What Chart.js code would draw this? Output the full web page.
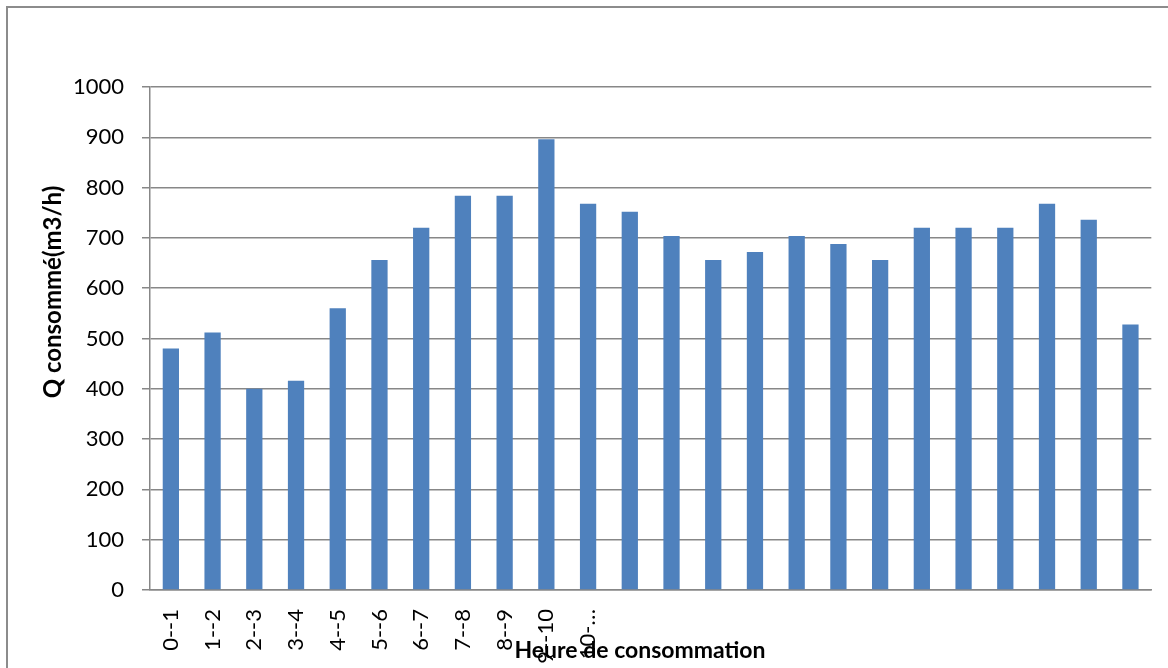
<!DOCTYPE html>
<html>
<head>
<meta charset="utf-8">
<title>Heure de consommation</title>
<script src="https://cdn.jsdelivr.net/npm/chart.js@4.4.1/dist/chart.umd.min.js"></script>
<style>
  html, body { margin: 0; padding: 0; background: #ffffff; overflow: hidden; }
  #wrap { position: relative; width: 1168px; height: 668px; }
  #wrap canvas { position: absolute; left: 0; top: 0; }
  #frame {
    position: absolute; left: 6px; top: 6px; right: -10px; bottom: -10px;
    border-left: 2px solid #8c8c8c; border-top: 2px solid #8c8c8c;
    pointer-events: none;
  }
</style>
</head>
<body>
<div id="wrap">
  <canvas id="chart" width="1168" height="668"></canvas>
  <div id="frame"></div>
</div>
<script>
// Hourly consumption intervals
const categories = [
  '0--1', '1--2', '2--3', '3--4', '4--5', '5--6', '6--7', '7--8',
  '8--9', '9--10', '10--11', '11--12', '12--13', '13--14', '14--15', '15--16',
  '16--17', '17--18', '18--19', '19--20', '20--21', '21--22', '22--23', '23--24'
];

// Labels printed under the axis (only the first hours fit)
const tickLabels = [
  '0--1', '1--2', '2--3', '3--4', '4--5', '5--6', '6--7', '7--8',
  '8--9', '9--10', '10-…', '', '', '', '', '',
  '', '', '', '', '', '', '', ''
];

// Flow consumed per hour (m3/h)
const consumption = [
  480, 512, 400, 416, 560, 656, 720, 784,
  784, 896, 768, 752, 704, 656, 672, 704,
  688, 656, 720, 720, 720, 768, 736, 528
];

// Value axis range
const yMin = 0;
const yMax = 1000;
const yStep = 100;

const xTitle = 'Heure de consommation';
const yTitle = 'Q consommé(m3/h)';

const FONT = 'Lato, "Open Sans", sans-serif';
const GRID = '#878787';

// Axis titles placed freely around the plot
const axisTitlePlugin = {
  id: 'axisTitles',
  afterDraw(chart, args, opts) {
    const ctx = chart.ctx;
    ctx.save();
    ctx.fillStyle = '#000000';
    ctx.textAlign = 'center';
    ctx.textBaseline = 'middle';
    ctx.font = 'bold ' + opts.xSize + 'px ' + FONT;
    ctx.fillText(xTitle, opts.xAt[0], opts.xAt[1]);
    ctx.font = 'bold ' + opts.ySize + 'px ' + FONT;
    ctx.translate(opts.yAt[0], opts.yAt[1]);
    ctx.rotate(-Math.PI / 2);
    ctx.fillText(yTitle, 0, 0);
    ctx.restore();
  }
};

function build() {
  const ctx = document.getElementById('chart').getContext('2d');
  new Chart(ctx, {
    type: 'bar',
    data: {
      labels: categories,
      datasets: [{
        label: yTitle,
        data: consumption,
        backgroundColor: '#4f81bd',
        borderWidth: 0,
        categoryPercentage: 1.0,
        barPercentage: 0.39
      }]
    },
    options: {
      responsive: false,
      devicePixelRatio: 1,
      animation: false,
      layout: { padding: { top: 87, right: 7, bottom: 0, left: 0 } },
      plugins: {
        legend: { display: false },
        tooltip: { enabled: false },
        axisTitles: { xSize: 23, ySize: 24, xAt: [640, 651], yAt: [53, 292] }
      },
      scales: {
        x: {
          grid: { display: false },
          border: { display: true, color: GRID, width: 1.5 },
          ticks: {
            autoSkip: false,
            minRotation: 90,
            maxRotation: 90,
            padding: 11,
            color: '#000000',
            font: { family: FONT, size: 22 },
            callback: (value, index) => tickLabels[index]
          },
          afterFit(scale) { scale.height = 78; }
        },
        y: {
          min: yMin,
          max: yMax,
          grid: { color: GRID, lineWidth: 1.5, drawTicks: true, tickLength: 8 },
          border: { display: true, color: GRID, width: 1.5 },
          ticks: {
            stepSize: yStep,
            padding: 18,
            color: '#000000',
            font: { family: FONT, size: 22 },
            callback: (value) => String(value)
          },
          afterFit(scale) { scale.width = 150; }
        }
      }
    },
    plugins: [axisTitlePlugin]
  });
}

const fontLoads = [
  'bold 23px Lato', '22px Lato'
].map(f => document.fonts.load(f).catch(() => null));
Promise.all(fontLoads).then(build, build);
</script>
</body>
</html>
